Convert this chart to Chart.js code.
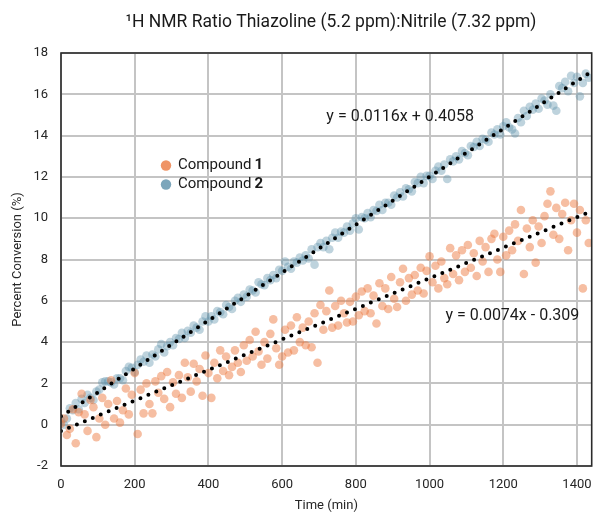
<!DOCTYPE html>
<html>
<head>
<meta charset="utf-8">
<script src="https://cdn.jsdelivr.net/npm/chart.js@4.4.1/dist/chart.umd.min.js"></script>
<style>
  html, body { margin: 0; padding: 0; background: #fff; }
  #wrap { width: 596px; height: 514px; position: relative; }
</style>
</head>
<body>
<div id="wrap"><canvas id="nmrChart"></canvas></div>
<script>
// --- Datos ---
const tiempoMin = [
  0,8,16,24,32,40,48,56,64,72,
  80,88,96,104,112,120,128,136,144,152,
  160,168,176,184,192,200,208,216,224,232,
  240,248,256,264,272,280,288,296,304,312,
  320,328,336,344,352,360,368,376,384,392,
  400,408,416,424,432,440,448,456,464,472,
  480,488,496,504,512,520,528,536,544,552,
  560,568,576,584,592,600,608,616,624,632,
  640,648,656,664,672,680,688,696,704,712,
  720,728,736,744,752,760,768,776,784,792,
  800,808,816,824,832,840,848,856,864,872,
  880,888,896,904,912,920,928,936,944,952,
  960,968,976,984,992,1000,1008,1016,1024,1032,
  1040,1048,1056,1064,1072,1080,1088,1096,1104,1112,
  1120,1128,1136,1144,1152,1160,1168,1176,1184,1192,
  1200,1208,1216,1224,1232,1240,1248,1256,1264,1272,
  1280,1288,1296,1304,1312,1320,1328,1336,1344,1352,
  1360,1368,1376,1384,1392,1400,1408,1416,1424,1432
];

// Compuesto 1 (naranja)
const compuesto1 = [
  0.05,0.3,-0.5,-0.2,0.75,-0.9,0.6,1.5,0.5,-0.3,
  1.2,0.85,-0.6,0.3,1.3,0.0,1.0,2.15,0.3,1.15,
  0.1,0.7,1.75,0.5,1.45,2.5,-0.45,1.7,0.55,2.0,
  1.0,0.55,2.1,1.55,2.35,1.25,2.55,0.85,2.05,1.5,
  2.4,1.3,3.0,2.3,1.6,2.95,2.1,2.7,1.4,3.35,
  2.5,1.3,3.0,2.25,3.6,2.6,3.3,2.4,2.8,3.6,
  3.0,2.55,3.85,3.1,4.1,3.3,4.5,3.55,2.9,4.0,
  3.2,4.4,5.1,3.7,2.9,3.3,4.6,3.5,4.8,3.6,
  5.2,4.0,4.7,3.85,5.0,3.75,5.4,3.0,5.8,4.6,
  5.5,6.5,4.7,5.75,4.8,6.0,5.4,4.95,5.95,5.0,
  6.2,5.3,6.45,5.5,6.6,5.4,6.25,4.9,6.85,5.75,
  6.6,5.6,7.15,6.1,5.7,6.9,7.55,6.0,7.1,6.3,
  7.25,6.5,7.6,6.35,7.45,8.15,6.9,7.7,6.6,7.9,
  7.1,6.8,8.55,7.3,8.2,7.0,8.45,7.4,8.7,7.6,
  8.3,7.2,8.9,7.9,8.6,7.4,9.0,9.25,8.0,7.4,
  9.1,8.2,9.4,8.45,9.7,8.9,10.4,7.3,9.5,8.6,
  9.9,7.85,9.6,8.8,10.1,10.7,11.3,9.2,10.5,9.0,
  10.2,10.75,8.45,9.9,10.7,9.3,10.4,6.6,9.9,8.8
];

// Compuesto 2 (azul)
const compuesto2 = [
  0.2,0.0,0.3,0.8,0.7,1.05,0.75,1.25,1.05,1.45,
  1.3,1.2,1.6,1.7,2.05,2.1,2.1,2.05,1.95,2.25,
  2.25,2.15,2.6,2.8,2.75,2.55,2.9,3.15,3.05,3.35,
  3.0,3.4,3.3,3.65,3.9,3.5,3.8,4.0,3.85,4.2,
  4.15,4.45,4.2,4.55,4.45,4.8,4.7,4.6,5.0,5.25,
  5.0,5.25,5.1,5.5,5.45,5.35,5.8,5.7,5.6,6.0,
  6.15,5.95,6.3,6.2,6.55,6.5,6.4,6.9,6.8,6.75,
  7.1,7.0,7.25,7.1,7.5,7.45,7.9,7.65,7.55,7.9,
  7.85,8.1,7.95,8.2,8.05,8.5,7.75,8.6,8.8,8.6,
  8.9,8.5,9.05,9.3,9.05,9.35,9.3,9.6,9.4,9.75,
  10.0,9.45,10.05,10.0,10.25,10.05,10.4,10.35,10.65,10.4,
  10.75,10.75,10.65,11.1,11.0,11.25,11.05,11.45,11.4,11.3,
  11.75,11.7,12.0,11.7,12.05,12.05,11.9,12.3,12.5,12.3,
  12.6,11.9,12.85,12.75,13.0,12.85,13.25,13.15,13.05,13.5,
  13.45,13.7,13.5,13.85,13.8,13.7,14.15,14.05,14.3,14.05,
  14.45,14.65,14.4,14.3,14.1,14.85,14.65,15.2,14.95,15.4,
  15.25,15.55,15.3,15.8,15.7,15.5,16.0,15.45,15.2,16.4,
  16.3,16.6,16.15,16.9,16.55,16.85,15.9,16.55,17.0,16.8
];

// Líneas de tendencia (y = m·x + b), como aparecen en la figura
const pendientes = [0.0074, 0.0116];
const intercepciones = [-0.309, 0.4058];
const ecuaciones = ['y = 0.0074x - 0.309', 'y = 0.0116x + 0.4058'];

// Marcas de los ejes
const ticksX = [0, 200, 400, 600, 800, 1000, 1200, 1400];
const ticksY = [-2, 0, 2, 4, 6, 8, 10, 12, 14, 16, 18];
const maxX = 1440;

const titulo = '\u00B9H NMR Ratio Thiazoline (5.2 ppm):Nitrile (7.32 ppm)';
const FUENTE = 'Roboto, "Open Sans", sans-serif';

const puntos = (ys) => tiempoMin.map((t, i) => ({ x: t, y: ys[i] }));
const tendencia = (i) => [0, maxX].map(x => ({ x: x, y: pendientes[i] * x + intercepciones[i] }));

// Plugin: título, marco negro, leyenda y ecuaciones
const extras = {
    id: 'extras',
    afterDatasetsDraw(chart) {
        const { ctx, chartArea: a, scales: { x, y } } = chart;
        ctx.save();
        ctx.strokeStyle = '#2b2b2b';
        ctx.lineWidth = 1.6;
        ctx.strokeRect(a.left, a.top, a.right - a.left, a.bottom - a.top);

        // título centrado sobre el área del gráfico
        ctx.fillStyle = '#1a1a1a';
        ctx.textBaseline = 'middle';
        ctx.textAlign = 'center';
        ctx.font = '17.5px ' + FUENTE;
        ctx.fillText(titulo, 331, 23);

        // ecuaciones
        ctx.font = '16px ' + FUENTE;
        ctx.textAlign = 'left';
        ctx.fillText(ecuaciones[1], x.getPixelForValue(720), y.getPixelForValue(14.88));
        ctx.fillText(ecuaciones[0], x.getPixelForValue(1043), y.getPixelForValue(5.25));

        // leyenda
        const items = [
            { color: 'rgb(239,148,102)', num: '1', py: 165.5 },
            { color: 'rgb(124,166,187)', num: '2', py: 184.5 }
        ];
        items.forEach(it => {
            ctx.beginPath();
            ctx.fillStyle = it.color;
            ctx.arc(166, it.py, 5.2, 0, Math.PI * 2);
            ctx.fill();
            ctx.fillStyle = '#1a1a1a';
            ctx.font = '15px ' + FUENTE;
            ctx.fillText('Compound', 178, it.py);
            const w = ctx.measureText('Compound').width;
            ctx.font = 'bold 15px ' + FUENTE;
            ctx.fillText(it.num, 178 + w + 3, it.py);
        });
        ctx.restore();
    }
};

const ctx = document.getElementById('nmrChart');
new Chart(ctx, {
    type: 'scatter',
    data: {
        datasets: [
            {
                label: 'Tendencia 2',
                type: 'line',
                data: tendencia(1),
                borderColor: '#000',
                borderWidth: 4,
                borderDash: [0, 8.6],
                borderCapStyle: 'round',
                pointRadius: 0,
                fill: false,
                order: 0
            },
            {
                label: 'Tendencia 1',
                type: 'line',
                data: tendencia(0),
                borderColor: '#000',
                borderWidth: 4,
                borderDash: [0, 8.6],
                borderCapStyle: 'round',
                pointRadius: 0,
                fill: false,
                order: 0
            },
            {
                label: 'Compound 2',
                data: puntos(compuesto2),
                backgroundColor: 'rgba(92,145,170,0.4)',
                borderWidth: 0,
                pointRadius: 4.3,
                order: 2
            },
            {
                label: 'Compound 1',
                data: puntos(compuesto1),
                backgroundColor: 'rgba(236,120,60,0.48)',
                borderWidth: 0,
                pointRadius: 4.3,
                order: 1
            }
        ]
    },
    options: {
        responsive: true,
        maintainAspectRatio: false,
        animation: false,
        layout: { padding: { left: 0, right: -4, top: 53, bottom: 0 } },
        plugins: {
            legend: { display: false },
            tooltip: { enabled: false },
            title: { display: false }
        },
        scales: {
            x: {
                type: 'linear',
                min: 0,
                max: maxX,
                afterBuildTicks: (s) => { s.ticks = ticksX.map(v => ({ value: v })); },
                afterFit: (s) => { s.height = 48; s.paddingLeft = 0; s.paddingRight = 0; },
                grid: { color: '#c4c4c4', lineWidth: 2, drawTicks: false },
                border: { display: false },
                ticks: {
                    padding: 11,
                    color: '#262626',
                    font: { family: FUENTE, size: 13 },
                    callback: (v) => String(v)
                },
                title: {
                    display: true,
                    text: 'Time (min)',
                    color: '#262626',
                    font: { family: FUENTE, size: 13 },
                    padding: { top: 0, bottom: 0 }
                }
            },
            y: {
                min: ticksY[0],
                max: ticksY[ticksY.length - 1],
                afterBuildTicks: (s) => { s.ticks = ticksY.map(v => ({ value: v })); },
                afterFit: (s) => { s.width = 61; s.paddingTop = 0; s.paddingBottom = 0; },
                grid: { color: '#c4c4c4', lineWidth: 2, drawTicks: false },
                border: { display: false },
                ticks: {
                    padding: 13,
                    color: '#262626',
                    font: { family: FUENTE, size: 13 },
                    callback: (v) => String(v)
                },
                title: {
                    display: true,
                    text: 'Percent Conversion (%)',
                    color: '#262626',
                    font: { family: FUENTE, size: 13 },
                    padding: { top: 10, bottom: 0 }
                }
            }
        }
    },
    plugins: [extras]
});
</script>
</body>
</html>
